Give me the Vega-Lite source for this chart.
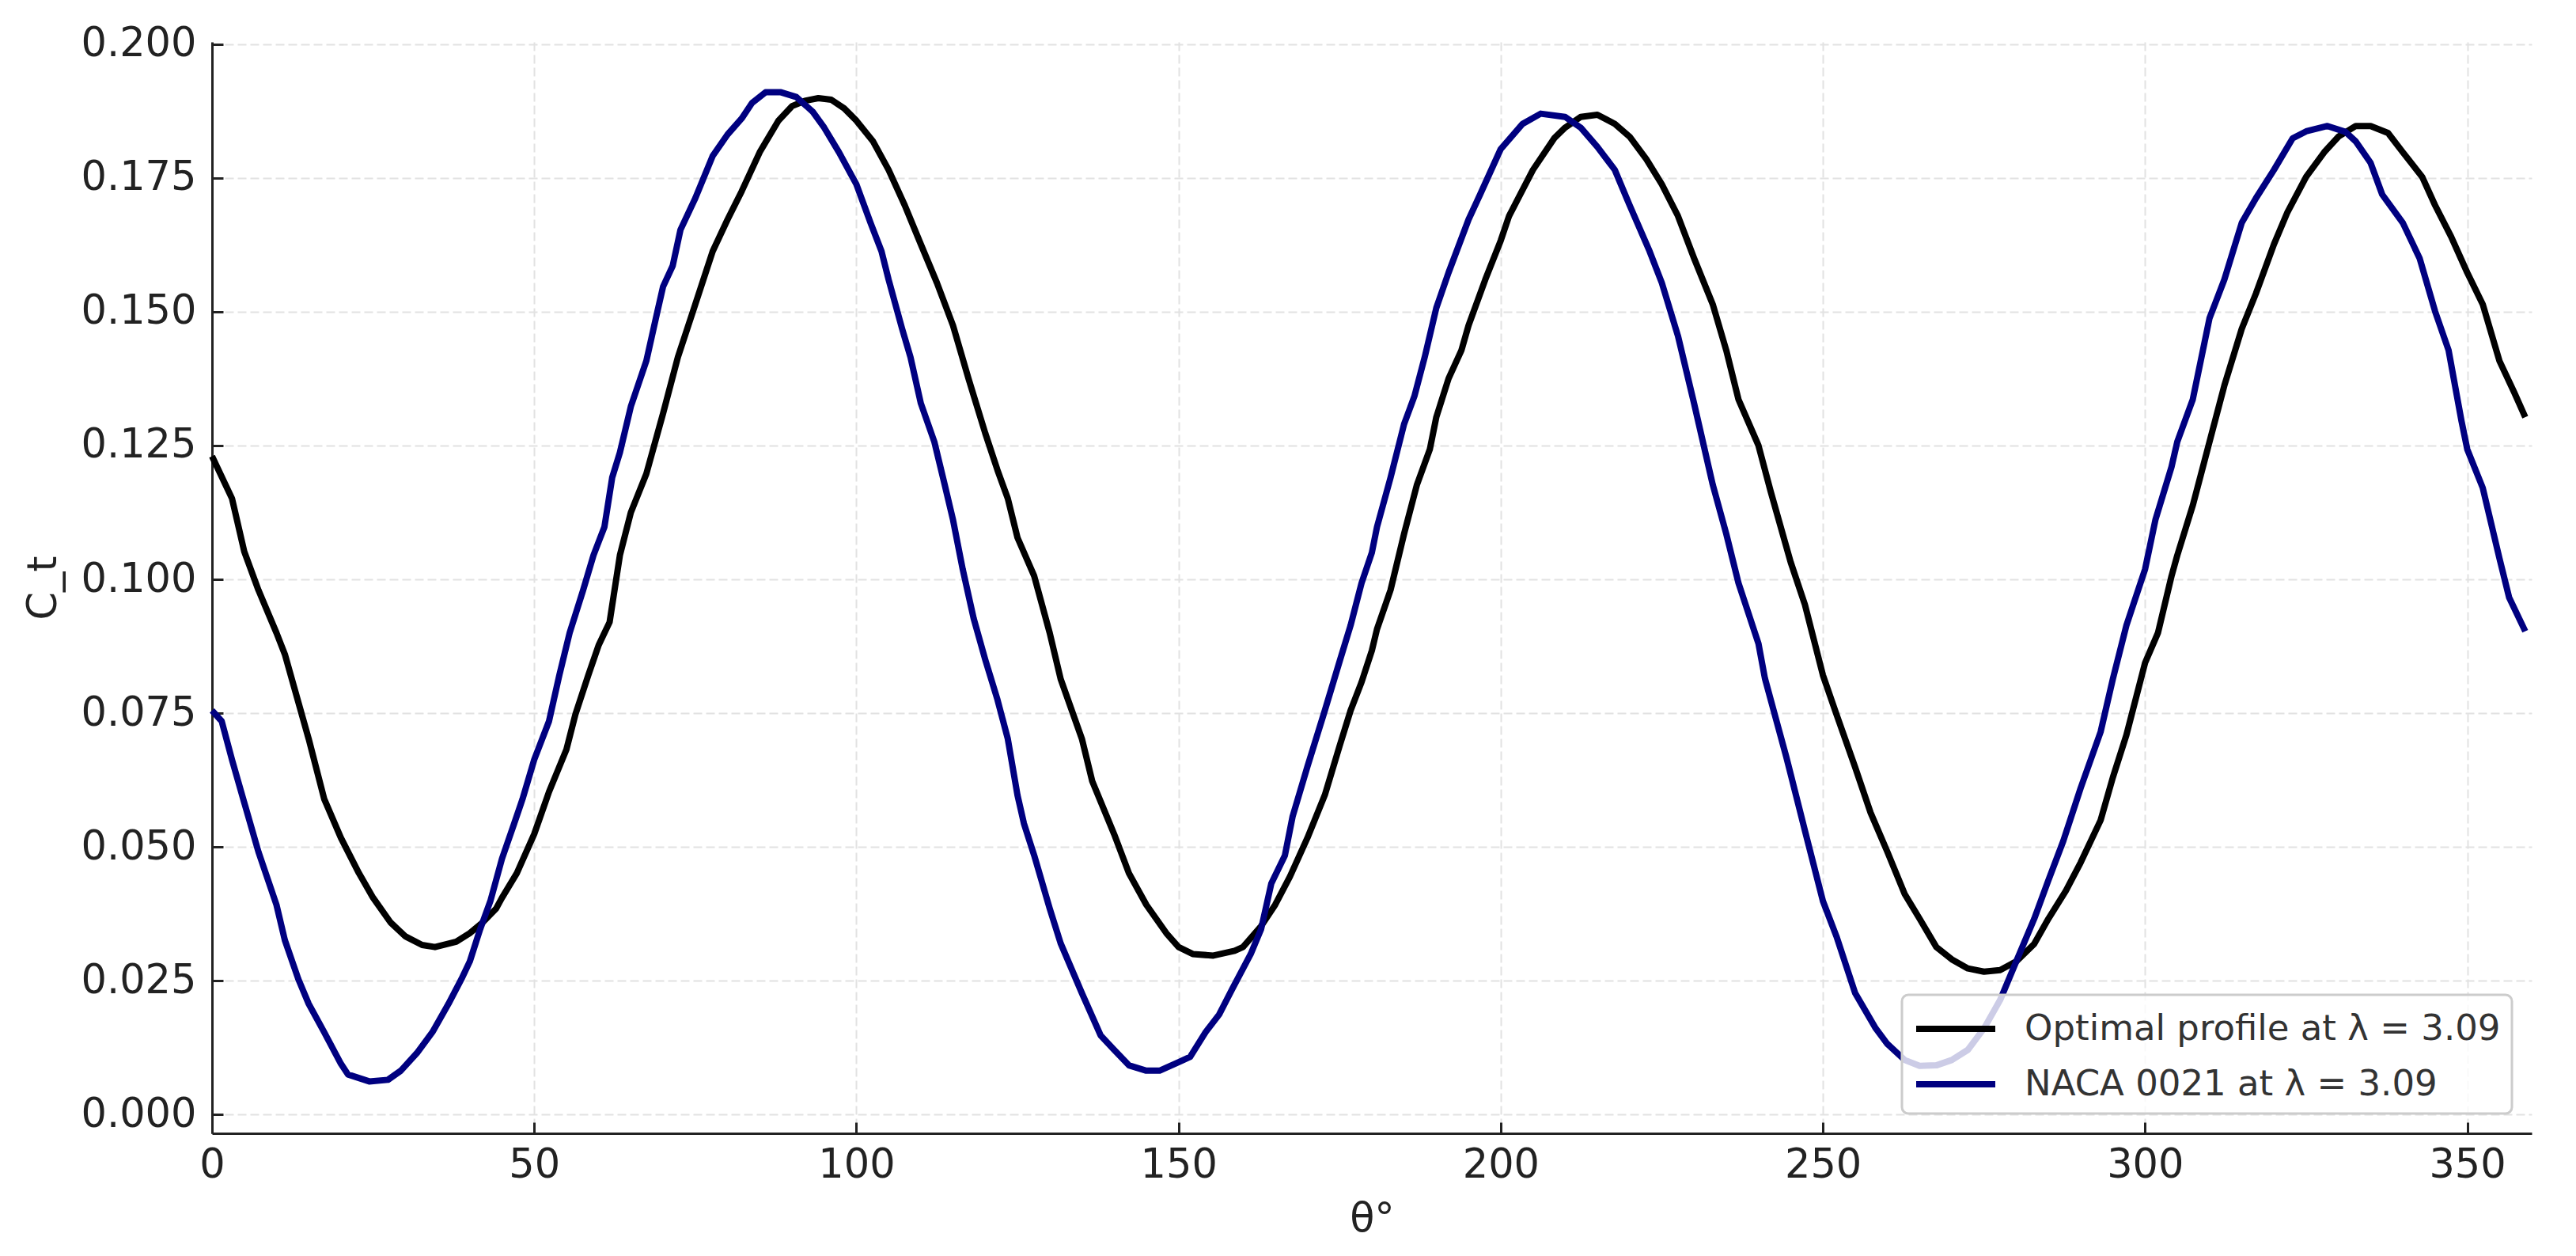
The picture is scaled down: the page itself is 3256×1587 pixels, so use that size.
{
  "$schema": "https://vega.github.io/schema/vega-lite/v6.json",
  "width": 2932,
  "height": 1379,
  "autosize": {"type": "none"},
  "padding": {"left": 268, "top": 53, "right": 56, "bottom": 155},
  "background": "white",
  "config": {
    "font": "DejaVu Sans",
    "view": {"stroke": null},
    "axis": {
      "domainColor": "#222222", "domainWidth": 3,
      "tickColor": "#222222", "tickWidth": 3, "tickSize": -14,
      "labelFontSize": 51, "labelColor": "#222222",
      "titleFontSize": 51, "titleFontWeight": "normal", "titleColor": "#222222",
      "gridColor": "#e2e2e2", "gridDash": [11, 5], "gridWidth": 2
    }
  },
  "data": {"values": [
    {"theta":0,"ct":0.123,"s":"Optimal profile at λ = 3.09"},
    {"theta":3.1,"ct":0.1151,"s":"Optimal profile at λ = 3.09"},
    {"theta":5,"ct":0.1052,"s":"Optimal profile at λ = 3.09"},
    {"theta":7.2,"ct":0.098,"s":"Optimal profile at λ = 3.09"},
    {"theta":10,"ct":0.090,"s":"Optimal profile at λ = 3.09"},
    {"theta":11.3,"ct":0.086,"s":"Optimal profile at λ = 3.09"},
    {"theta":15,"ct":0.0702,"s":"Optimal profile at λ = 3.09"},
    {"theta":17.4,"ct":0.059,"s":"Optimal profile at λ = 3.09"},
    {"theta":20,"ct":0.0517,"s":"Optimal profile at λ = 3.09"},
    {"theta":22.8,"ct":0.0451,"s":"Optimal profile at λ = 3.09"},
    {"theta":25,"ct":0.0405,"s":"Optimal profile at λ = 3.09"},
    {"theta":27.7,"ct":0.0359,"s":"Optimal profile at λ = 3.09"},
    {"theta":30,"ct":0.0333,"s":"Optimal profile at λ = 3.09"},
    {"theta":32.6,"ct":0.0317,"s":"Optimal profile at λ = 3.09"},
    {"theta":34.6,"ct":0.0313,"s":"Optimal profile at λ = 3.09"},
    {"theta":37.9,"ct":0.0323,"s":"Optimal profile at λ = 3.09"},
    {"theta":40,"ct":0.0339,"s":"Optimal profile at λ = 3.09"},
    {"theta":42,"ct":0.0359,"s":"Optimal profile at λ = 3.09"},
    {"theta":44.1,"ct":0.0385,"s":"Optimal profile at λ = 3.09"},
    {"theta":45,"ct":0.0405,"s":"Optimal profile at λ = 3.09"},
    {"theta":47.3,"ct":0.0451,"s":"Optimal profile at λ = 3.09"},
    {"theta":50,"ct":0.0524,"s":"Optimal profile at λ = 3.09"},
    {"theta":52.3,"ct":0.0603,"s":"Optimal profile at λ = 3.09"},
    {"theta":55,"ct":0.0682,"s":"Optimal profile at λ = 3.09"},
    {"theta":56.4,"ct":0.0748,"s":"Optimal profile at λ = 3.09"},
    {"theta":58.4,"ct":0.0821,"s":"Optimal profile at λ = 3.09"},
    {"theta":60,"ct":0.0877,"s":"Optimal profile at λ = 3.09"},
    {"theta":61.7,"ct":0.092,"s":"Optimal profile at λ = 3.09"},
    {"theta":63.3,"ct":0.1045,"s":"Optimal profile at λ = 3.09"},
    {"theta":65,"ct":0.1125,"s":"Optimal profile at λ = 3.09"},
    {"theta":67.4,"ct":0.1197,"s":"Optimal profile at λ = 3.09"},
    {"theta":70,"ct":0.131,"s":"Optimal profile at λ = 3.09"},
    {"theta":72.3,"ct":0.1415,"s":"Optimal profile at λ = 3.09"},
    {"theta":75,"ct":0.1514,"s":"Optimal profile at λ = 3.09"},
    {"theta":77.7,"ct":0.1613,"s":"Optimal profile at λ = 3.09"},
    {"theta":80,"ct":0.1672,"s":"Optimal profile at λ = 3.09"},
    {"theta":82.2,"ct":0.1725,"s":"Optimal profile at λ = 3.09"},
    {"theta":85,"ct":0.1798,"s":"Optimal profile at λ = 3.09"},
    {"theta":87.9,"ct":0.1857,"s":"Optimal profile at λ = 3.09"},
    {"theta":90,"ct":0.1884,"s":"Optimal profile at λ = 3.09"},
    {"theta":92,"ct":0.1894,"s":"Optimal profile at λ = 3.09"},
    {"theta":94.1,"ct":0.1899,"s":"Optimal profile at λ = 3.09"},
    {"theta":96.1,"ct":0.1896,"s":"Optimal profile at λ = 3.09"},
    {"theta":98.1,"ct":0.188,"s":"Optimal profile at λ = 3.09"},
    {"theta":100,"ct":0.1857,"s":"Optimal profile at λ = 3.09"},
    {"theta":102.6,"ct":0.1818,"s":"Optimal profile at λ = 3.09"},
    {"theta":105,"ct":0.1765,"s":"Optimal profile at λ = 3.09"},
    {"theta":107.5,"ct":0.1699,"s":"Optimal profile at λ = 3.09"},
    {"theta":110,"ct":0.1626,"s":"Optimal profile at λ = 3.09"},
    {"theta":112.5,"ct":0.1554,"s":"Optimal profile at λ = 3.09"},
    {"theta":115,"ct":0.1474,"s":"Optimal profile at λ = 3.09"},
    {"theta":117.4,"ct":0.1375,"s":"Optimal profile at λ = 3.09"},
    {"theta":120,"ct":0.1273,"s":"Optimal profile at λ = 3.09"},
    {"theta":121.9,"ct":0.1204,"s":"Optimal profile at λ = 3.09"},
    {"theta":123.5,"ct":0.1151,"s":"Optimal profile at λ = 3.09"},
    {"theta":125,"ct":0.1078,"s":"Optimal profile at λ = 3.09"},
    {"theta":127.6,"ct":0.1006,"s":"Optimal profile at λ = 3.09"},
    {"theta":130,"ct":0.090,"s":"Optimal profile at λ = 3.09"},
    {"theta":131.7,"ct":0.0814,"s":"Optimal profile at λ = 3.09"},
    {"theta":135,"ct":0.0702,"s":"Optimal profile at λ = 3.09"},
    {"theta":136.6,"ct":0.0623,"s":"Optimal profile at λ = 3.09"},
    {"theta":140,"ct":0.0524,"s":"Optimal profile at λ = 3.09"},
    {"theta":142.3,"ct":0.0451,"s":"Optimal profile at λ = 3.09"},
    {"theta":145,"ct":0.0392,"s":"Optimal profile at λ = 3.09"},
    {"theta":148.1,"ct":0.0339,"s":"Optimal profile at λ = 3.09"},
    {"theta":150,"ct":0.0313,"s":"Optimal profile at λ = 3.09"},
    {"theta":152.2,"ct":0.030,"s":"Optimal profile at λ = 3.09"},
    {"theta":155.4,"ct":0.0297,"s":"Optimal profile at λ = 3.09"},
    {"theta":158.7,"ct":0.0306,"s":"Optimal profile at λ = 3.09"},
    {"theta":160,"ct":0.0313,"s":"Optimal profile at λ = 3.09"},
    {"theta":162.8,"ct":0.0352,"s":"Optimal profile at λ = 3.09"},
    {"theta":165,"ct":0.0392,"s":"Optimal profile at λ = 3.09"},
    {"theta":167.3,"ct":0.0445,"s":"Optimal profile at λ = 3.09"},
    {"theta":170,"ct":0.0517,"s":"Optimal profile at λ = 3.09"},
    {"theta":172.7,"ct":0.0597,"s":"Optimal profile at λ = 3.09"},
    {"theta":175,"ct":0.0689,"s":"Optimal profile at λ = 3.09"},
    {"theta":176.7,"ct":0.0755,"s":"Optimal profile at λ = 3.09"},
    {"theta":178.4,"ct":0.0808,"s":"Optimal profile at λ = 3.09"},
    {"theta":180,"ct":0.0867,"s":"Optimal profile at λ = 3.09"},
    {"theta":180.8,"ct":0.0907,"s":"Optimal profile at λ = 3.09"},
    {"theta":182.9,"ct":0.098,"s":"Optimal profile at λ = 3.09"},
    {"theta":185,"ct":0.1085,"s":"Optimal profile at λ = 3.09"},
    {"theta":187,"ct":0.1177,"s":"Optimal profile at λ = 3.09"},
    {"theta":189,"ct":0.1243,"s":"Optimal profile at λ = 3.09"},
    {"theta":190,"ct":0.1303,"s":"Optimal profile at λ = 3.09"},
    {"theta":191.9,"ct":0.1375,"s":"Optimal profile at λ = 3.09"},
    {"theta":193.9,"ct":0.1428,"s":"Optimal profile at λ = 3.09"},
    {"theta":195,"ct":0.1474,"s":"Optimal profile at λ = 3.09"},
    {"theta":197.6,"ct":0.156,"s":"Optimal profile at λ = 3.09"},
    {"theta":200,"ct":0.1633,"s":"Optimal profile at λ = 3.09"},
    {"theta":201.3,"ct":0.1679,"s":"Optimal profile at λ = 3.09"},
    {"theta":205,"ct":0.1765,"s":"Optimal profile at λ = 3.09"},
    {"theta":208.3,"ct":0.1824,"s":"Optimal profile at λ = 3.09"},
    {"theta":210,"ct":0.1844,"s":"Optimal profile at λ = 3.09"},
    {"theta":212.4,"ct":0.1864,"s":"Optimal profile at λ = 3.09"},
    {"theta":215,"ct":0.1868,"s":"Optimal profile at λ = 3.09"},
    {"theta":217.7,"ct":0.1851,"s":"Optimal profile at λ = 3.09"},
    {"theta":220,"ct":0.1827,"s":"Optimal profile at λ = 3.09"},
    {"theta":222.6,"ct":0.1785,"s":"Optimal profile at λ = 3.09"},
    {"theta":225,"ct":0.1738,"s":"Optimal profile at λ = 3.09"},
    {"theta":227.5,"ct":0.1679,"s":"Optimal profile at λ = 3.09"},
    {"theta":230,"ct":0.160,"s":"Optimal profile at λ = 3.09"},
    {"theta":232.9,"ct":0.1514,"s":"Optimal profile at λ = 3.09"},
    {"theta":235,"ct":0.1428,"s":"Optimal profile at λ = 3.09"},
    {"theta":236.9,"ct":0.1336,"s":"Optimal profile at λ = 3.09"},
    {"theta":240,"ct":0.125,"s":"Optimal profile at λ = 3.09"},
    {"theta":241.9,"ct":0.1164,"s":"Optimal profile at λ = 3.09"},
    {"theta":245,"ct":0.1032,"s":"Optimal profile at λ = 3.09"},
    {"theta":247.2,"ct":0.0953,"s":"Optimal profile at λ = 3.09"},
    {"theta":250,"ct":0.0821,"s":"Optimal profile at λ = 3.09"},
    {"theta":252.1,"ct":0.0748,"s":"Optimal profile at λ = 3.09"},
    {"theta":255,"ct":0.0649,"s":"Optimal profile at λ = 3.09"},
    {"theta":257.4,"ct":0.0564,"s":"Optimal profile at λ = 3.09"},
    {"theta":260,"ct":0.0491,"s":"Optimal profile at λ = 3.09"},
    {"theta":262.7,"ct":0.0412,"s":"Optimal profile at λ = 3.09"},
    {"theta":265,"ct":0.0366,"s":"Optimal profile at λ = 3.09"},
    {"theta":267.6,"ct":0.0313,"s":"Optimal profile at λ = 3.09"},
    {"theta":270,"ct":0.029,"s":"Optimal profile at λ = 3.09"},
    {"theta":272.5,"ct":0.0273,"s":"Optimal profile at λ = 3.09"},
    {"theta":275,"ct":0.0267,"s":"Optimal profile at λ = 3.09"},
    {"theta":277.5,"ct":0.027,"s":"Optimal profile at λ = 3.09"},
    {"theta":280,"ct":0.0286,"s":"Optimal profile at λ = 3.09"},
    {"theta":282.8,"ct":0.0319,"s":"Optimal profile at λ = 3.09"},
    {"theta":285,"ct":0.0366,"s":"Optimal profile at λ = 3.09"},
    {"theta":287.7,"ct":0.0418,"s":"Optimal profile at λ = 3.09"},
    {"theta":290,"ct":0.0471,"s":"Optimal profile at λ = 3.09"},
    {"theta":293.1,"ct":0.055,"s":"Optimal profile at λ = 3.09"},
    {"theta":295,"ct":0.063,"s":"Optimal profile at λ = 3.09"},
    {"theta":297.1,"ct":0.0709,"s":"Optimal profile at λ = 3.09"},
    {"theta":300,"ct":0.0844,"s":"Optimal profile at λ = 3.09"},
    {"theta":302,"ct":0.09,"s":"Optimal profile at λ = 3.09"},
    {"theta":304.1,"ct":0.1006,"s":"Optimal profile at λ = 3.09"},
    {"theta":305,"ct":0.1045,"s":"Optimal profile at λ = 3.09"},
    {"theta":307.4,"ct":0.1138,"s":"Optimal profile at λ = 3.09"},
    {"theta":310,"ct":0.1257,"s":"Optimal profile at λ = 3.09"},
    {"theta":312.3,"ct":0.1362,"s":"Optimal profile at λ = 3.09"},
    {"theta":315,"ct":0.1468,"s":"Optimal profile at λ = 3.09"},
    {"theta":317.2,"ct":0.1534,"s":"Optimal profile at λ = 3.09"},
    {"theta":320,"ct":0.1626,"s":"Optimal profile at λ = 3.09"},
    {"theta":322.1,"ct":0.1686,"s":"Optimal profile at λ = 3.09"},
    {"theta":325,"ct":0.1752,"s":"Optimal profile at λ = 3.09"},
    {"theta":327.8,"ct":0.1798,"s":"Optimal profile at λ = 3.09"},
    {"theta":330,"ct":0.1827,"s":"Optimal profile at λ = 3.09"},
    {"theta":332.7,"ct":0.1847,"s":"Optimal profile at λ = 3.09"},
    {"theta":335,"ct":0.1847,"s":"Optimal profile at λ = 3.09"},
    {"theta":337.7,"ct":0.1834,"s":"Optimal profile at λ = 3.09"},
    {"theta":340,"ct":0.1798,"s":"Optimal profile at λ = 3.09"},
    {"theta":343,"ct":0.1752,"s":"Optimal profile at λ = 3.09"},
    {"theta":345,"ct":0.1699,"s":"Optimal profile at λ = 3.09"},
    {"theta":347.5,"ct":0.164,"s":"Optimal profile at λ = 3.09"},
    {"theta":350,"ct":0.1573,"s":"Optimal profile at λ = 3.09"},
    {"theta":352.4,"ct":0.1514,"s":"Optimal profile at λ = 3.09"},
    {"theta":355,"ct":0.1408,"s":"Optimal profile at λ = 3.09"},
    {"theta":357.3,"ct":0.1349,"s":"Optimal profile at λ = 3.09"},
    {"theta":359,"ct":0.1303,"s":"Optimal profile at λ = 3.09"},
    {"theta":0,"ct":0.0755,"s":"NACA 0021 at λ = 3.09"},
    {"theta":1.5,"ct":0.0735,"s":"NACA 0021 at λ = 3.09"},
    {"theta":3.1,"ct":0.0663,"s":"NACA 0021 at λ = 3.09"},
    {"theta":5,"ct":0.0583,"s":"NACA 0021 at λ = 3.09"},
    {"theta":7.2,"ct":0.0491,"s":"NACA 0021 at λ = 3.09"},
    {"theta":10,"ct":0.0392,"s":"NACA 0021 at λ = 3.09"},
    {"theta":11.3,"ct":0.0326,"s":"NACA 0021 at λ = 3.09"},
    {"theta":13.4,"ct":0.0253,"s":"NACA 0021 at λ = 3.09"},
    {"theta":15,"ct":0.0207,"s":"NACA 0021 at λ = 3.09"},
    {"theta":17.4,"ct":0.0154,"s":"NACA 0021 at λ = 3.09"},
    {"theta":20,"ct":0.0095,"s":"NACA 0021 at λ = 3.09"},
    {"theta":21.1,"ct":0.0075,"s":"NACA 0021 at λ = 3.09"},
    {"theta":24.4,"ct":0.0062,"s":"NACA 0021 at λ = 3.09"},
    {"theta":27.3,"ct":0.0065,"s":"NACA 0021 at λ = 3.09"},
    {"theta":29.3,"ct":0.0082,"s":"NACA 0021 at λ = 3.09"},
    {"theta":31.8,"ct":0.0115,"s":"NACA 0021 at λ = 3.09"},
    {"theta":34.2,"ct":0.0154,"s":"NACA 0021 at λ = 3.09"},
    {"theta":36.7,"ct":0.0207,"s":"NACA 0021 at λ = 3.09"},
    {"theta":38.7,"ct":0.0253,"s":"NACA 0021 at λ = 3.09"},
    {"theta":40,"ct":0.0286,"s":"NACA 0021 at λ = 3.09"},
    {"theta":41.6,"ct":0.0346,"s":"NACA 0021 at λ = 3.09"},
    {"theta":43.2,"ct":0.0399,"s":"NACA 0021 at λ = 3.09"},
    {"theta":45,"ct":0.0478,"s":"NACA 0021 at λ = 3.09"},
    {"theta":46.9,"ct":0.0544,"s":"NACA 0021 at λ = 3.09"},
    {"theta":48.2,"ct":0.059,"s":"NACA 0021 at λ = 3.09"},
    {"theta":50,"ct":0.0663,"s":"NACA 0021 at λ = 3.09"},
    {"theta":52.3,"ct":0.0735,"s":"NACA 0021 at λ = 3.09"},
    {"theta":53.9,"ct":0.0821,"s":"NACA 0021 at λ = 3.09"},
    {"theta":55.5,"ct":0.090,"s":"NACA 0021 at λ = 3.09"},
    {"theta":57.6,"ct":0.098,"s":"NACA 0021 at λ = 3.09"},
    {"theta":59.2,"ct":0.1045,"s":"NACA 0021 at λ = 3.09"},
    {"theta":60.9,"ct":0.1098,"s":"NACA 0021 at λ = 3.09"},
    {"theta":62.1,"ct":0.119,"s":"NACA 0021 at λ = 3.09"},
    {"theta":63.3,"ct":0.1237,"s":"NACA 0021 at λ = 3.09"},
    {"theta":65,"ct":0.1323,"s":"NACA 0021 at λ = 3.09"},
    {"theta":67.4,"ct":0.1408,"s":"NACA 0021 at λ = 3.09"},
    {"theta":69,"ct":0.1494,"s":"NACA 0021 at λ = 3.09"},
    {"theta":70,"ct":0.1547,"s":"NACA 0021 at λ = 3.09"},
    {"theta":71.5,"ct":0.1586,"s":"NACA 0021 at λ = 3.09"},
    {"theta":72.7,"ct":0.1653,"s":"NACA 0021 at λ = 3.09"},
    {"theta":75,"ct":0.1712,"s":"NACA 0021 at λ = 3.09"},
    {"theta":77.7,"ct":0.1791,"s":"NACA 0021 at λ = 3.09"},
    {"theta":80,"ct":0.1831,"s":"NACA 0021 at λ = 3.09"},
    {"theta":82.2,"ct":0.1861,"s":"NACA 0021 at λ = 3.09"},
    {"theta":83.8,"ct":0.189,"s":"NACA 0021 at λ = 3.09"},
    {"theta":85.9,"ct":0.191,"s":"NACA 0021 at λ = 3.09"},
    {"theta":88.3,"ct":0.191,"s":"NACA 0021 at λ = 3.09"},
    {"theta":90.7,"ct":0.1901,"s":"NACA 0021 at λ = 3.09"},
    {"theta":93.2,"ct":0.1874,"s":"NACA 0021 at λ = 3.09"},
    {"theta":95,"ct":0.1844,"s":"NACA 0021 at λ = 3.09"},
    {"theta":97.3,"ct":0.1798,"s":"NACA 0021 at λ = 3.09"},
    {"theta":100,"ct":0.1738,"s":"NACA 0021 at λ = 3.09"},
    {"theta":102.2,"ct":0.1666,"s":"NACA 0021 at λ = 3.09"},
    {"theta":103.9,"ct":0.1613,"s":"NACA 0021 at λ = 3.09"},
    {"theta":105,"ct":0.156,"s":"NACA 0021 at λ = 3.09"},
    {"theta":107.1,"ct":0.1468,"s":"NACA 0021 at λ = 3.09"},
    {"theta":108.4,"ct":0.1415,"s":"NACA 0021 at λ = 3.09"},
    {"theta":110,"ct":0.1329,"s":"NACA 0021 at λ = 3.09"},
    {"theta":112.1,"ct":0.1257,"s":"NACA 0021 at λ = 3.09"},
    {"theta":113.7,"ct":0.1177,"s":"NACA 0021 at λ = 3.09"},
    {"theta":115,"ct":0.1111,"s":"NACA 0021 at λ = 3.09"},
    {"theta":116.5,"ct":0.1019,"s":"NACA 0021 at λ = 3.09"},
    {"theta":118.2,"ct":0.0927,"s":"NACA 0021 at λ = 3.09"},
    {"theta":120,"ct":0.085,"s":"NACA 0021 at λ = 3.09"},
    {"theta":121.9,"ct":0.0775,"s":"NACA 0021 at λ = 3.09"},
    {"theta":123.5,"ct":0.0702,"s":"NACA 0021 at λ = 3.09"},
    {"theta":125,"ct":0.0597,"s":"NACA 0021 at λ = 3.09"},
    {"theta":126,"ct":0.0544,"s":"NACA 0021 at λ = 3.09"},
    {"theta":127.6,"ct":0.0484,"s":"NACA 0021 at λ = 3.09"},
    {"theta":130,"ct":0.0385,"s":"NACA 0021 at λ = 3.09"},
    {"theta":131.7,"ct":0.032,"s":"NACA 0021 at λ = 3.09"},
    {"theta":135,"ct":0.0227,"s":"NACA 0021 at λ = 3.09"},
    {"theta":137.9,"ct":0.0148,"s":"NACA 0021 at λ = 3.09"},
    {"theta":140,"ct":0.0121,"s":"NACA 0021 at λ = 3.09"},
    {"theta":142.3,"ct":0.0092,"s":"NACA 0021 at λ = 3.09"},
    {"theta":145,"ct":0.0082,"s":"NACA 0021 at λ = 3.09"},
    {"theta":147.05,"ct":0.0082,"s":"NACA 0021 at λ = 3.09"},
    {"theta":150,"ct":0.0098,"s":"NACA 0021 at λ = 3.09"},
    {"theta":151.8,"ct":0.0108,"s":"NACA 0021 at λ = 3.09"},
    {"theta":154.2,"ct":0.0154,"s":"NACA 0021 at λ = 3.09"},
    {"theta":156.3,"ct":0.0187,"s":"NACA 0021 at λ = 3.09"},
    {"theta":158.3,"ct":0.0234,"s":"NACA 0021 at λ = 3.09"},
    {"theta":161.2,"ct":0.030,"s":"NACA 0021 at λ = 3.09"},
    {"theta":162.8,"ct":0.0346,"s":"NACA 0021 at λ = 3.09"},
    {"theta":164.4,"ct":0.0432,"s":"NACA 0021 at λ = 3.09"},
    {"theta":166.5,"ct":0.0484,"s":"NACA 0021 at λ = 3.09"},
    {"theta":167.7,"ct":0.0557,"s":"NACA 0021 at λ = 3.09"},
    {"theta":170,"ct":0.065,"s":"NACA 0021 at λ = 3.09"},
    {"theta":172.7,"ct":0.0755,"s":"NACA 0021 at λ = 3.09"},
    {"theta":175,"ct":0.0847,"s":"NACA 0021 at λ = 3.09"},
    {"theta":176.7,"ct":0.0914,"s":"NACA 0021 at λ = 3.09"},
    {"theta":178.4,"ct":0.0993,"s":"NACA 0021 at λ = 3.09"},
    {"theta":180,"ct":0.105,"s":"NACA 0021 at λ = 3.09"},
    {"theta":180.8,"ct":0.1098,"s":"NACA 0021 at λ = 3.09"},
    {"theta":182.9,"ct":0.119,"s":"NACA 0021 at λ = 3.09"},
    {"theta":185,"ct":0.129,"s":"NACA 0021 at λ = 3.09"},
    {"theta":186.6,"ct":0.1342,"s":"NACA 0021 at λ = 3.09"},
    {"theta":188.2,"ct":0.1415,"s":"NACA 0021 at λ = 3.09"},
    {"theta":190,"ct":0.1507,"s":"NACA 0021 at λ = 3.09"},
    {"theta":191.9,"ct":0.1573,"s":"NACA 0021 at λ = 3.09"},
    {"theta":195,"ct":0.1672,"s":"NACA 0021 at λ = 3.09"},
    {"theta":196.8,"ct":0.1719,"s":"NACA 0021 at λ = 3.09"},
    {"theta":200,"ct":0.1804,"s":"NACA 0021 at λ = 3.09"},
    {"theta":203.4,"ct":0.1851,"s":"NACA 0021 at λ = 3.09"},
    {"theta":206.2,"ct":0.187,"s":"NACA 0021 at λ = 3.09"},
    {"theta":210,"ct":0.1864,"s":"NACA 0021 at λ = 3.09"},
    {"theta":212.4,"ct":0.1844,"s":"NACA 0021 at λ = 3.09"},
    {"theta":215,"ct":0.1808,"s":"NACA 0021 at λ = 3.09"},
    {"theta":217.7,"ct":0.1765,"s":"NACA 0021 at λ = 3.09"},
    {"theta":220,"ct":0.1699,"s":"NACA 0021 at λ = 3.09"},
    {"theta":223.1,"ct":0.1613,"s":"NACA 0021 at λ = 3.09"},
    {"theta":225,"ct":0.1554,"s":"NACA 0021 at λ = 3.09"},
    {"theta":227.5,"ct":0.1455,"s":"NACA 0021 at λ = 3.09"},
    {"theta":230,"ct":0.1329,"s":"NACA 0021 at λ = 3.09"},
    {"theta":232.9,"ct":0.1177,"s":"NACA 0021 at λ = 3.09"},
    {"theta":235,"ct":0.1085,"s":"NACA 0021 at λ = 3.09"},
    {"theta":236.9,"ct":0.0993,"s":"NACA 0021 at λ = 3.09"},
    {"theta":240,"ct":0.088,"s":"NACA 0021 at λ = 3.09"},
    {"theta":241,"ct":0.0815,"s":"NACA 0021 at λ = 3.09"},
    {"theta":243.1,"ct":0.0722,"s":"NACA 0021 at λ = 3.09"},
    {"theta":244.3,"ct":0.0669,"s":"NACA 0021 at λ = 3.09"},
    {"theta":245,"ct":0.0636,"s":"NACA 0021 at λ = 3.09"},
    {"theta":247.2,"ct":0.0531,"s":"NACA 0021 at λ = 3.09"},
    {"theta":250,"ct":0.0399,"s":"NACA 0021 at λ = 3.09"},
    {"theta":252.1,"ct":0.0333,"s":"NACA 0021 at λ = 3.09"},
    {"theta":255,"ct":0.0227,"s":"NACA 0021 at λ = 3.09"},
    {"theta":258.2,"ct":0.0161,"s":"NACA 0021 at λ = 3.09"},
    {"theta":260,"ct":0.0132,"s":"NACA 0021 at λ = 3.09"},
    {"theta":262.7,"ct":0.0102,"s":"NACA 0021 at λ = 3.09"},
    {"theta":265,"ct":0.0091,"s":"NACA 0021 at λ = 3.09"},
    {"theta":267.6,"ct":0.0092,"s":"NACA 0021 at λ = 3.09"},
    {"theta":270,"ct":0.0102,"s":"NACA 0021 at λ = 3.09"},
    {"theta":272.5,"ct":0.0121,"s":"NACA 0021 at λ = 3.09"},
    {"theta":275,"ct":0.0161,"s":"NACA 0021 at λ = 3.09"},
    {"theta":277.5,"ct":0.0214,"s":"NACA 0021 at λ = 3.09"},
    {"theta":280,"ct":0.0286,"s":"NACA 0021 at λ = 3.09"},
    {"theta":282.8,"ct":0.0366,"s":"NACA 0021 at λ = 3.09"},
    {"theta":285,"ct":0.0438,"s":"NACA 0021 at λ = 3.09"},
    {"theta":287.3,"ct":0.0511,"s":"NACA 0021 at λ = 3.09"},
    {"theta":290,"ct":0.061,"s":"NACA 0021 at λ = 3.09"},
    {"theta":293.1,"ct":0.0715,"s":"NACA 0021 at λ = 3.09"},
    {"theta":295,"ct":0.0814,"s":"NACA 0021 at λ = 3.09"},
    {"theta":297.1,"ct":0.0914,"s":"NACA 0021 at λ = 3.09"},
    {"theta":300,"ct":0.1019,"s":"NACA 0021 at λ = 3.09"},
    {"theta":301.6,"ct":0.1111,"s":"NACA 0021 at λ = 3.09"},
    {"theta":304.1,"ct":0.121,"s":"NACA 0021 at λ = 3.09"},
    {"theta":305,"ct":0.1257,"s":"NACA 0021 at λ = 3.09"},
    {"theta":307.4,"ct":0.1336,"s":"NACA 0021 at λ = 3.09"},
    {"theta":310,"ct":0.1488,"s":"NACA 0021 at λ = 3.09"},
    {"theta":312.3,"ct":0.156,"s":"NACA 0021 at λ = 3.09"},
    {"theta":315,"ct":0.1666,"s":"NACA 0021 at λ = 3.09"},
    {"theta":317.2,"ct":0.1712,"s":"NACA 0021 at λ = 3.09"},
    {"theta":320,"ct":0.1765,"s":"NACA 0021 at λ = 3.09"},
    {"theta":322.9,"ct":0.1824,"s":"NACA 0021 at λ = 3.09"},
    {"theta":325,"ct":0.1837,"s":"NACA 0021 at λ = 3.09"},
    {"theta":328.3,"ct":0.1847,"s":"NACA 0021 at λ = 3.09"},
    {"theta":331.1,"ct":0.1836,"s":"NACA 0021 at λ = 3.09"},
    {"theta":332.7,"ct":0.1818,"s":"NACA 0021 at λ = 3.09"},
    {"theta":335,"ct":0.1778,"s":"NACA 0021 at λ = 3.09"},
    {"theta":336.8,"ct":0.1719,"s":"NACA 0021 at λ = 3.09"},
    {"theta":340,"ct":0.1666,"s":"NACA 0021 at λ = 3.09"},
    {"theta":342.6,"ct":0.16,"s":"NACA 0021 at λ = 3.09"},
    {"theta":345,"ct":0.1501,"s":"NACA 0021 at λ = 3.09"},
    {"theta":347.1,"ct":0.1428,"s":"NACA 0021 at λ = 3.09"},
    {"theta":349.1,"ct":0.1296,"s":"NACA 0021 at λ = 3.09"},
    {"theta":350,"ct":0.1243,"s":"NACA 0021 at λ = 3.09"},
    {"theta":352.4,"ct":0.1171,"s":"NACA 0021 at λ = 3.09"},
    {"theta":355,"ct":0.1039,"s":"NACA 0021 at λ = 3.09"},
    {"theta":356.5,"ct":0.0966,"s":"NACA 0021 at λ = 3.09"},
    {"theta":359,"ct":0.0903,"s":"NACA 0021 at λ = 3.09"}
  ]},
  "mark": {"type": "line", "strokeWidth": 8, "strokeJoin": "round", "strokeCap": "butt"},
  "encoding": {
    "x": {
      "field": "theta", "type": "quantitative",
      "scale": {"domain": [0, 360], "nice": false, "zero": false},
      "axis": {"title": "θ°", "values": [0, 50, 100, 150, 200, 250, 300, 350], "labelPadding": 29, "titlePadding": 18, "labelFlush": false}
    },
    "y": {
      "field": "ct", "type": "quantitative",
      "scale": {"domain": [-0.0035, 0.2004], "nice": false, "zero": false},
      "axis": {"title": "C_t", "values": [0, 0.025, 0.05, 0.075, 0.1, 0.125, 0.15, 0.175, 0.2], "format": ".3f", "labelPadding": 34, "titlePadding": 20, "labelFlush": false}
    },
    "color": {
      "field": "s", "type": "nominal",
      "scale": {"domain": ["Optimal profile at λ = 3.09", "NACA 0021 at λ = 3.09"], "range": ["#000000", "#000080"]},
      "legend": {
        "title": null, "orient": "none", "legendX": 2136, "legendY": 1204,
        "symbolType": "M-1,0H3", "symbolSize": 2500, "symbolStrokeWidth": 8,
        "labelFontSize": 45, "labelColor": "#333333", "labelOffset": 83, "labelLimit": 0,
        "padding": 14, "rowPadding": 18,
        "strokeColor": "#cccccc", "fillColor": "rgba(255,255,255,0.8)", "cornerRadius": 8,
        "encode": {"legend": {"update": {"strokeWidth": {"value": 3}}}}
      }
    }
  }
}
